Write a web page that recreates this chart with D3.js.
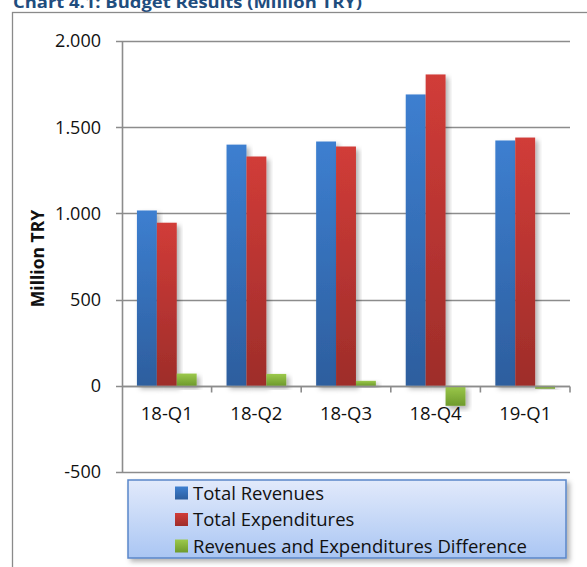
<!DOCTYPE html>
<html>
<head>
<meta charset="utf-8">
<script src="https://cdn.jsdelivr.net/npm/d3@7"></script>
<style>
  html, body { margin: 0; padding: 0; background: #fff; }
  svg { display: block; font-family: 'Open Sans', sans-serif; }
</style>
</head>
<body>
<div id="chart"></div>
<script>
const quarters     = ['18-Q1', '18-Q2', '18-Q3', '18-Q4', '19-Q1']
const revenues     = [1017, 1399, 1417, 1690, 1423]
const expenditures = [946, 1330, 1388, 1806, 1440]
const difference   = [71, 69, 29, -116, -17]
const seriesNames  = ['Total Revenues', 'Total Expenditures', 'Revenues and Expenditures Difference']
const yTicks       = [-500, 0, 500, 1000, 1500, 2000]

const width  = 587
const height = 567
const margin = { top: 41, right: 17, bottom: 95, left: 122 }

const seriesColors = [
  { id: 'gradRev',  top: '#3d7fd0', bottom: '#2d5e9e' },
  { id: 'gradExp',  top: '#d13c38', bottom: '#9e2d2a' },
  { id: 'gradDiff', top: '#9cc94c', bottom: '#6e9a2c' }
]

// 2000 -> "2.000", -500 -> "-500"
const fmt = v => d3.format(',')(v).replace(/,/g, '.').replace('\u2212', '-')

const series = [revenues, expenditures, difference]
const data = quarters.map((q, i) => ({
  quarter: q,
  values: series.map((s, k) => ({ key: k, value: s[i] }))
}))

const svg = d3.select('#chart')
  .append('svg')
  .attr('width', width)
  .attr('height', height)

const defs = svg.append('defs')

seriesColors.forEach(c => {
  const g = defs.append('linearGradient')
    .attr('id', c.id)
    .attr('x1', 0).attr('y1', 0).attr('x2', 0).attr('y2', 1)
  g.append('stop').attr('offset', '0%').attr('stop-color', c.top)
  g.append('stop').attr('offset', '100%').attr('stop-color', c.bottom)
})

const legendGrad = defs.append('linearGradient')
  .attr('id', 'gradLegend')
  .attr('x1', 0).attr('y1', 0).attr('x2', 0).attr('y2', 1)
legendGrad.append('stop').attr('offset', '0%').attr('stop-color', '#e2eafb')
legendGrad.append('stop').attr('offset', '100%').attr('stop-color', '#aac6f3')

defs.append('filter')
  .attr('id', 'shadow')
  .attr('x', '-30%').attr('y', '-30%').attr('width', '160%').attr('height', '160%')
  .append('feDropShadow')
    .attr('dx', 3).attr('dy', 3)
    .attr('stdDeviation', 2.5)
    .attr('flood-color', '#000')
    .attr('flood-opacity', 0.3)

// title (cut off at the top of the frame, like the source)
svg.append('text')
  .attr('x', 13)
  .attr('y', 8)
  .attr('fill', '#1f4d7e')
  .attr('font-weight', 'bold')
  .attr('font-size', '16px')
  .attr('textLength', 349)
  .attr('lengthAdjust', 'spacingAndGlyphs')
  .text('Chart 4.1: Budget Results (Million TRY)')

// outer frame
svg.append('rect')
  .attr('x', 12.5)
  .attr('y', 12.5)
  .attr('width', 600)
  .attr('height', 600)
  .attr('fill', 'none')
  .attr('stroke', '#8a8a8a')
  .attr('stroke-width', 1.3)

const x0 = d3.scaleBand()
  .domain(quarters)
  .range([margin.left, width - margin.right])
  .paddingInner(0)
  .paddingOuter(0)

const x1 = d3.scaleBand()
  .domain(d3.range(series.length))
  .range([0, x0.bandwidth()])
  .paddingOuter(0.75)
  .paddingInner(0)

const y = d3.scaleLinear()
  .domain([-500, 2000])
  .range([height - margin.bottom, margin.top])

// gridlines
svg.append('g')
  .selectAll('line')
  .data(yTicks)
  .enter()
  .append('line')
    .attr('x1', margin.left - 6)
    .attr('x2', width - margin.right)
    .attr('y1', d => Math.round(y(d)) + 0.5)
    .attr('y2', d => Math.round(y(d)) + 0.5)
    .attr('stroke', '#8c8c8c')
    .attr('stroke-width', 1.6)

// y axis line
svg.append('line')
  .attr('x1', margin.left + 0.5)
  .attr('x2', margin.left + 0.5)
  .attr('y1', y(2000))
  .attr('y2', y(-500))
  .attr('stroke', '#8c8c8c')
  .attr('stroke-width', 1.6)

// y tick labels
svg.append('g')
  .selectAll('text')
  .data(yTicks)
  .enter()
  .append('text')
    .attr('x', margin.left - 21)
    .attr('y', d => y(d))
    .attr('dy', '.35em')
    .style('text-anchor', 'end')
    .attr('font-size', '18px')
    .attr('fill', '#111')
    .text(fmt)

// y axis title
svg.append('text')
  .attr('transform', `translate(44, ${(y(2000) + y(-500)) / 2 + 2}) rotate(-90)`)
  .style('text-anchor', 'middle')
  .attr('font-size', '17.5px')
  .attr('font-weight', 'bold')
  .attr('fill', '#111')
  .text('Million TRY')

// bars
const groups = svg.append('g')
  .selectAll('g')
  .data(data)
  .enter()
  .append('g')
    .attr('transform', d => `translate(${x0(d.quarter)}, 0)`)

groups.selectAll('rect')
  .data(d => d.values)
  .enter()
  .append('rect')
    .attr('x', d => x1(d.key))
    .attr('width', x1.bandwidth())
    .attr('y', d => y(Math.max(0, d.value)))
    .attr('height', d => Math.abs(y(d.value) - y(0)))
    .attr('fill', d => `url(#${seriesColors[d.key].id})`)
    .attr('filter', 'url(#shadow)')

// x axis at zero
const zeroY = Math.round(y(0)) + 0.5
svg.append('line')
  .attr('x1', margin.left)
  .attr('x2', width - margin.right)
  .attr('y1', zeroY)
  .attr('y2', zeroY)
  .attr('stroke', '#8c8c8c')
  .attr('stroke-width', 1.6)

svg.append('g')
  .selectAll('line')
  .data(quarters)
  .enter()
  .append('line')
    .attr('x1', d => x0(d) + x0.bandwidth())
    .attr('x2', d => x0(d) + x0.bandwidth())
    .attr('y1', zeroY)
    .attr('y2', zeroY + 6)
    .attr('stroke', '#8c8c8c')
    .attr('stroke-width', 1.6)

svg.append('g')
  .selectAll('text')
  .data(quarters)
  .enter()
  .append('text')
    .attr('x', d => x0(d) + x0.bandwidth() / 2)
    .attr('y', zeroY + 27)
    .attr('dy', '.35em')
    .style('text-anchor', 'middle')
    .attr('font-size', '18.5px')
    .attr('fill', '#111')
    .text(d => d)

// legend
const legend = svg.append('g')
  .attr('transform', 'translate(128, 480)')

legend.append('rect')
  .attr('width', 438)
  .attr('height', 78)
  .attr('fill', 'url(#gradLegend)')
  .attr('stroke', '#5a86c9')
  .attr('stroke-width', 1.5)
  .attr('filter', 'url(#shadow)')

const items = legend.selectAll('.item')
  .data(seriesNames)
  .enter()
  .append('g')
    .attr('class', 'item')
    .attr('transform', (d, i) => `translate(47, ${13 + i * 26.5})`)

items.append('rect')
  .attr('y', -6.5)
  .attr('width', 13)
  .attr('height', 13)
  .attr('fill', (d, i) => `url(#${seriesColors[i].id})`)

items.append('text')
  .attr('x', 18)
  .attr('dy', '.36em')
  .attr('font-size', '18.5px')
  .attr('fill', '#111')
  .text(d => d)
</script>
</body>
</html>
